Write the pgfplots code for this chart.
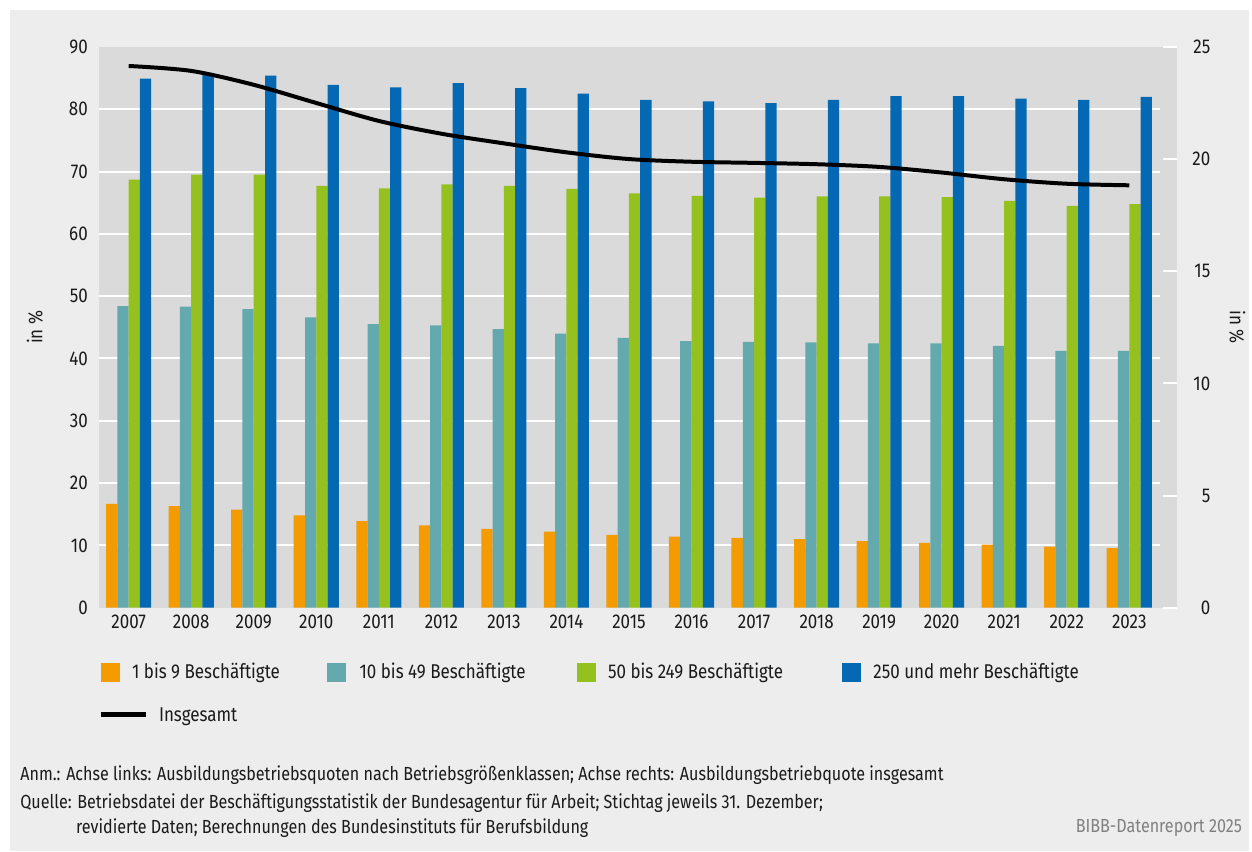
\documentclass[border=0pt]{standalone}
\usepackage{pgfplots}
\pgfplotsset{compat=1.18}
\usepackage{fontspec}
\setmainfont{Fira Sans}[FakeStretch=0.85]

\definecolor{cOrange}{HTML}{F39B00}
\definecolor{cTeal}{HTML}{63A9AD}
\definecolor{cGreen}{HTML}{95C11F}
\definecolor{cBlue}{HTML}{0568B3}
\definecolor{plotbg}{HTML}{DADADA}
\definecolor{pagebg}{HTML}{EDEDED}
\definecolor{txt}{HTML}{1A1A1A}

% Betriebsgroessenklassen, linke Achse (in %)
\pgfplotstableread{
x  k1     k2     k3     k4
0  16.65  48.4   68.7   84.9
1  16.3   48.3   69.5   85.7
2  15.75  47.9   69.5   85.4
3  14.8   46.6   67.7   83.9
4  13.9   45.5   67.3   83.5
5  13.2   45.3   67.95  84.2
6  12.65  44.7   67.7   83.4
7  12.2   44.0   67.2   82.5
8  11.7   43.3   66.5   81.5
9  11.4   42.8   66.1   81.25
10 11.2   42.65  65.8   81.0
11 11.0   42.6   66.0   81.5
12 10.7   42.4   66.0   82.1
13 10.4   42.4   65.9   82.1
14 10.1   42.0   65.3   81.7
15 9.8    41.2   64.5   81.5
16 9.55   41.2   64.75  82.0
}\groessen

% Insgesamt, rechte Achse (in %)
\pgfplotstableread{
x  q
0  24.15
1  23.93
2  23.31
3  22.5
4  21.7
5  21.13
6  20.7
7  20.3
8  20.0
9  19.88
10 19.83
11 19.77
12 19.65
13 19.4
14 19.1
15 18.9
16 18.83
}\insgesamt

\begin{document}
\begin{tikzpicture}[font=\fontsize{10}{12}\selectfont, text=txt]
% Hintergrund (Pixelmass: 1px = 0.5pt, y nach unten)
\fill[white] (0,0) rectangle (626pt,-426.5pt);
\fill[pagebg] (5pt,-5pt) rectangle (626pt,-426.5pt);

\pgfplotsset{
  base/.style={
    scale only axis, width=540.5pt, height=281pt,
    at={(49.5pt,-304.5pt)}, anchor=south west,
    xmin=-0.478, xmax=16.77,
    axis line style={draw=none},
    /pgf/number format/assume math mode=true,
    ticklabel style={font=\fontsize{10}{12}\selectfont, text=txt},
    label style={text=txt},
  }
}

\begin{axis}[base,
  axis background/.style={fill=plotbg},
  ymin=0, ymax=90,
  ytick={0,10,...,90},
  major tick length=0pt,
  yticklabel style={xshift=-2pt},
  xtick={0,...,16},
  xticklabels={2007,2008,2009,2010,2011,2012,2013,2014,2015,2016,2017,2018,2019,2020,2021,2022,2023},
  ybar=0pt, bar width=5.65pt,
  ylabel={in \%},
  ylabel style={at={(axis description cs:-0.0592,0.5)}, anchor=center, rotate=0},
]
\pgfplotsinvokeforeach{10,20,...,80}{
  \draw[white, line width=1pt] (axis cs:-0.478,#1) -- (axis cs:16.49,#1);
}
\addplot[fill=cOrange, draw=none] table[x=x, y=k1] {\groessen};
\addplot[fill=cTeal,   draw=none] table[x=x, y=k2] {\groessen};
\addplot[fill=cGreen,  draw=none] table[x=x, y=k3] {\groessen};
\addplot[fill=cBlue,   draw=none] table[x=x, y=k4] {\groessen};
\end{axis}

\begin{axis}[base,
  ymin=0, ymax=25,
  axis y line*=right, hide x axis,
  ytick={0,5,...,25},
  tick style={white, line width=1pt},
  major tick length=7pt, tick align=inside,
  yticklabel style={anchor=east, xshift=20pt},
  ylabel={in \%},
  ylabel style={at={(axis description cs:1.0555,0.5)}, anchor=center, rotate=180},
]
\addplot[black, line width=2pt, smooth, no marks] table[x=x, y=q] {\insgesamt};
\end{axis}

% Legende und Fusszeilen
\begin{scope}[x=0.5pt, y=-0.5pt]
  \fill[cOrange] (101,664) rectangle (120,683);
  \node[anchor=west, inner sep=0] at (132,674) {1 bis 9 Beschäftigte};
  \fill[cTeal] (328,664) rectangle (347,683);
  \node[anchor=west, inner sep=0] at (360,674) {10 bis 49 Beschäftigte};
  \fill[cGreen] (578,664) rectangle (597,683);
  \node[anchor=west, inner sep=0] at (609,674) {50 bis 249 Beschäftigte};
  \fill[cBlue] (844,664) rectangle (863,683);
  \node[anchor=west, inner sep=0] at (875,674) {250 und mehr Beschäftigte};
  \draw[black, line width=2.2pt] (101,716) -- (146,716);
  \node[anchor=west, inner sep=0] at (159,718) {Insgesamt};

  \node[anchor=west, inner sep=0, font=\fontsize{9.5}{11}\selectfont] at (20,777)
    {Anm.: Achse links: Ausbildungsbetriebsquoten nach Betriebsgrößenklassen; Achse rechts: Ausbildungsbetriebquote insgesamt};
  \node[anchor=west, inner sep=0, font=\fontsize{9.5}{11}\selectfont] at (20,805)
    {Quelle: Betriebsdatei der Beschäftigungsstatistik der Bundesagentur für Arbeit; Stichtag jeweils 31. Dezember;};
  \node[anchor=west, inner sep=0, font=\fontsize{9.5}{11}\selectfont] at (76,830)
    {revidierte Daten; Berechnungen des Bundesinstituts für Berufsbildung};
  \node[anchor=east, inner sep=0, text=black!50, font=\fontsize{9.5}{11}\selectfont] at (1245,830)
    {BIBB-Datenreport 2025};
\end{scope}
\end{tikzpicture}
\end{document}
